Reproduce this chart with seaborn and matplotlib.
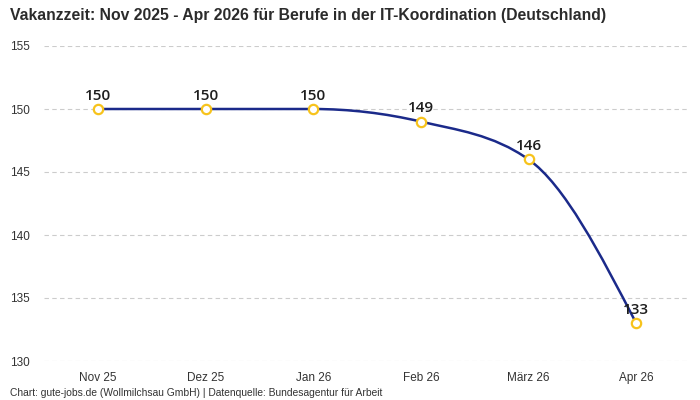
import numpy as np
import pandas as pd
import matplotlib
matplotlib.use('Agg')
import matplotlib.pyplot as plt
from matplotlib.path import Path
from matplotlib.patches import PathPatch
from matplotlib import font_manager
import seaborn as sns

# Data
months = ['Nov 25', 'Dez 25', 'Jan 26', 'Feb 26', 'März 26', 'Apr 26']
vakanz = [150, 150, 150, 149, 146, 133]

title = 'Vakanzzeit: Nov 2025 - Apr 2026 für Berufe in der IT-Koordination (Deutschland)'
footer = 'Chart: gute-jobs.de (Wollmilchsau GmbH) | Datenquelle: Bundesagentur für Arbeit'

line_color = '#1b2a8a'
marker_color = '#f7c31c'

df = pd.DataFrame({'month': months, 'pos': np.arange(len(months)), 'value': vakanz})

sns.set_theme(style='white')

# prefer a narrow face if the system has one
try:
    font_manager.findfont('Liberation Sans Narrow', fallback_to_default=False)
    base_font = 'Liberation Sans Narrow'
    narrow = True
except ValueError:
    base_font = 'Liberation Sans'
    narrow = False
plt.rcParams['font.family'] = [base_font, 'DejaVu Sans']


def monotone_path(x, y):
    # smooth monotone curve (like d3.curveMonotoneX) as cubic bezier segments
    x = np.asarray(x, float)
    y = np.asarray(y, float)
    n = len(x)
    h = np.diff(x)
    s = np.diff(y) / h
    t = np.zeros(n)
    for i in range(1, n - 1):
        p = (s[i - 1] * h[i] + s[i] * h[i - 1]) / (h[i - 1] + h[i])
        t[i] = (np.sign(s[i - 1]) + np.sign(s[i])) * min(abs(s[i - 1]), abs(s[i]), 0.5 * abs(p))
    t[0] = (3 * s[0] - t[1]) / 2
    t[-1] = (3 * s[-1] - t[-2]) / 2
    verts = [(x[0], y[0])]
    codes = [Path.MOVETO]
    for i in range(n - 1):
        dx = (x[i + 1] - x[i]) / 3
        verts += [(x[i] + dx, y[i] + dx * t[i]),
                  (x[i + 1] - dx, y[i + 1] - dx * t[i + 1]),
                  (x[i + 1], y[i + 1])]
        codes += [Path.CURVE4] * 3
    return Path(verts, codes)


fig = plt.figure(figsize=(7, 4), dpi=100)
ax = fig.add_axes([0.063, 0.0975, 0.9227, 0.7875])

ax.add_patch(PathPatch(monotone_path(df['pos'], df['value']), fill=False,
                       edgecolor=line_color, linewidth=1.8, zorder=3))

sns.scatterplot(data=df, x='pos', y='value', ax=ax, s=45, color='white',
                edgecolor=marker_color, linewidth=1.6, zorder=4, legend=False)

for _, row in df.iterrows():
    ax.annotate(str(row['value']), (row['pos'], row['value']), xytext=(0, 4.5),
                textcoords='offset points', ha='center', va='bottom',
                fontsize=11, fontweight='semibold', color='#1e1e1e',
                family=['Open Sans', 'DejaVu Sans'], zorder=5)

ax.set_xlim(-0.5, len(months) - 0.5)
ax.set_ylim(130, 155)
ax.set_yticks(range(130, 156, 5))
ax.set_xticks(df['pos'])
ax.set_xticklabels(months)
ax.set_xlabel('')
ax.set_ylabel('')
ax.grid(axis='y', color='#cccccc', linestyle=(0, (4, 3)), linewidth=0.8)
ax.grid(axis='x', visible=False)
for sp in ax.spines.values():
    sp.set_visible(False)
tick_size = 9.5 if narrow else 8.5
ax.tick_params(axis='both', length=0, labelsize=tick_size, colors='#333333')
ax.tick_params(axis='x', pad=8)
ax.tick_params(axis='y', pad=10)
ax.set_axisbelow(True)

fig.text(0.014, 0.98, title, ha='left', va='top',
         fontsize=13 if narrow else 11.3,
         fontweight='bold', color='#2b2b2b')
fig.text(0.014, 0.004, footer, ha='left', va='bottom', fontsize=7.4,
         color='#333333')

fig.savefig('out.png', dpi=100)
